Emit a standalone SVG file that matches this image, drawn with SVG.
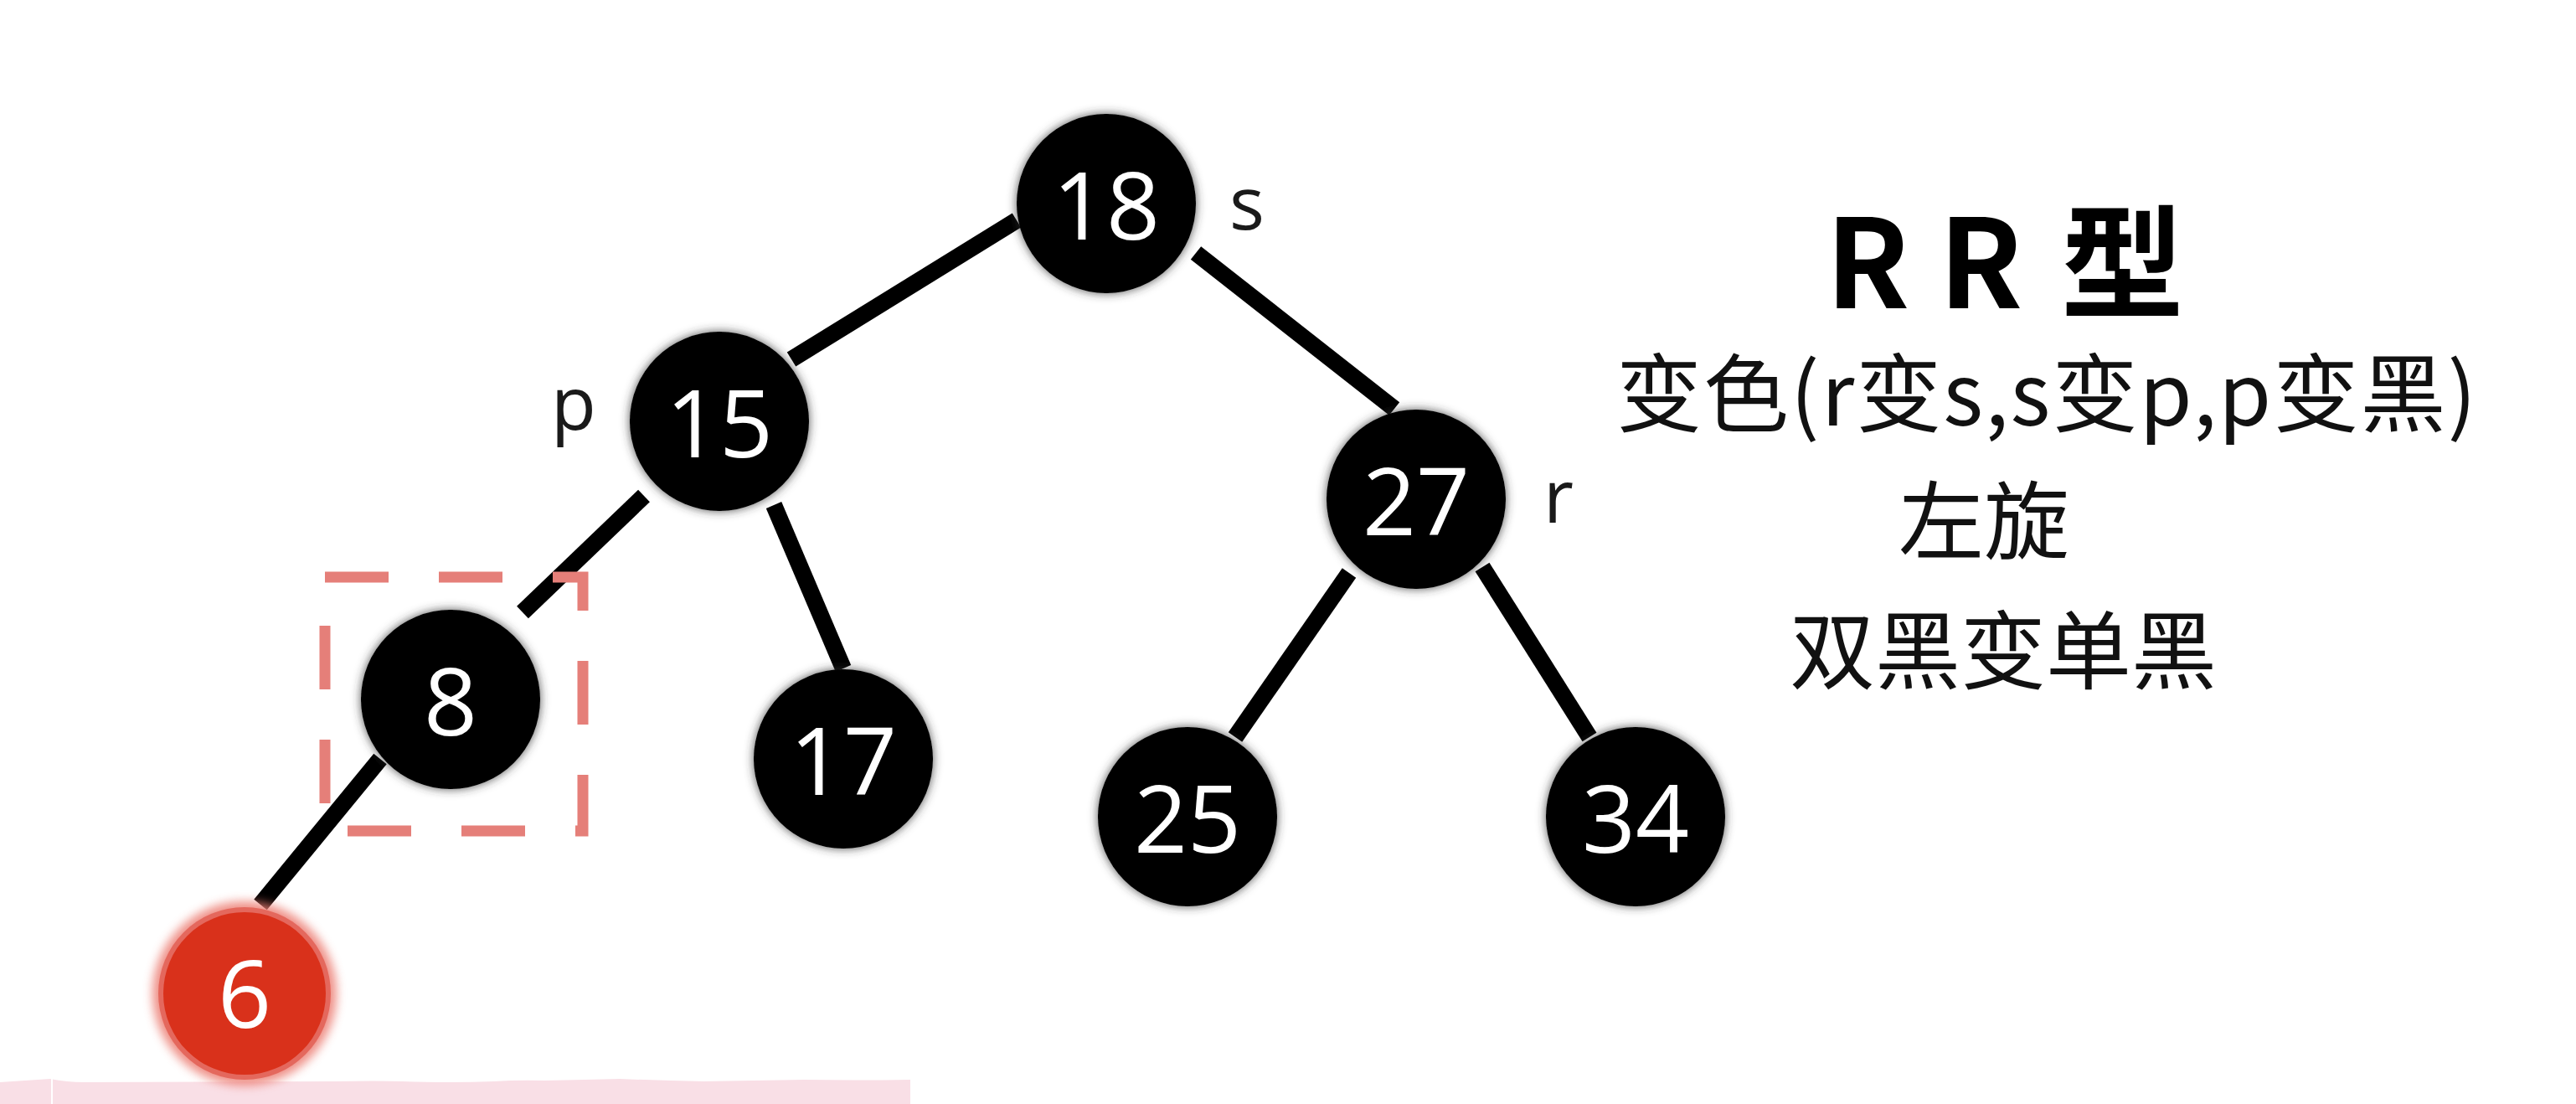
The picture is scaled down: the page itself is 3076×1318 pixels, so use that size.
<svg xmlns="http://www.w3.org/2000/svg" width="3076" height="1318" viewBox="0 0 3076 1318">
  <defs>
    <style>
      .node { fill: #000000; filter: url(#glow); }
      .num { font-family: "Open Sans", "Noto Sans", "Liberation Sans", sans-serif; font-size: 112px; fill: #ffffff; text-anchor: middle; }
      .lbl { font-family: "Open Sans", "Noto Sans", "Liberation Sans", sans-serif; font-size: 88px; fill: #1a1a1a; }
      .edge { stroke: #000000; stroke-width: 20; stroke-linecap: butt; fill: none; }
      .cjk { font-family: "Noto Sans CJK SC", "Noto Sans", sans-serif; font-size: 102px; fill: #111111; }
    </style>
    <filter id="glow" x="-20%" y="-20%" width="140%" height="140%">
      <feGaussianBlur in="SourceAlpha" stdDeviation="6" result="b"/>
      <feFlood flood-color="#333333" flood-opacity="0.85"/>
      <feComposite in2="b" operator="in" result="s"/>
      <feMerge>
        <feMergeNode in="s"/>
        <feMergeNode in="SourceGraphic"/>
      </feMerge>
    </filter>
    <filter id="redglow" x="-30%" y="-30%" width="160%" height="160%">
      <feGaussianBlur stdDeviation="6"/>
    </filter>
  </defs>

  <rect x="0" y="0" width="3076" height="1318" fill="#ffffff"/>

  <!-- bottom pink band -->
  <g id="band">
    <path d="M0,1292 Q30,1290 60,1288 Q80,1292 100,1292 L400,1291 Q450,1290 480,1291 Q540,1293 590,1291 Q620,1289 650,1290 Q700,1289 740,1288 Q790,1290 840,1291 Q900,1290 960,1289 Q1020,1290 1087,1289 L1087,1318 L0,1318 Z" fill="#f9dfe6"/>
    <line x1="62" y1="1288" x2="62" y2="1318" stroke="#ffffff" stroke-width="2"/>
  </g>

  <!-- connectors -->
  <g id="connectors">
    <line class="edge" x1="1214" y1="263" x2="945" y2="429"/>
    <line class="edge" x1="1428" y1="302" x2="1665" y2="488"/>
    <line class="edge" x1="769" y1="592" x2="624" y2="731"/>
    <line class="edge" x1="924" y1="603" x2="1007" y2="798"/>
    <line class="edge" x1="454" y1="906" x2="311" y2="1080"/>
    <line class="edge" x1="1611" y1="684" x2="1475" y2="880"/>
    <line class="edge" x1="1770" y1="677" x2="1898" y2="880"/>
  </g>

  <!-- highlight box around node 8 -->
  <g id="highlight">
    <rect x="388" y="689" width="308" height="303" fill="none" stroke="#e57f79" stroke-width="13" stroke-dasharray="76 60"/>
  </g>

  <g id="node18">
    <circle class="node" cx="1321" cy="243" r="107"/>
    <text class="num" x="1321" y="286">18</text>
  </g>
  <g id="node15">
    <circle class="node" cx="859" cy="503" r="107"/>
    <text class="num" x="859" y="546">15</text>
  </g>
  <g id="node27">
    <circle class="node" cx="1691" cy="596" r="107"/>
    <text class="num" x="1691" y="639">27</text>
  </g>
  <g id="node8">
    <circle class="node" cx="538" cy="835" r="107"/>
    <text class="num" x="538" y="878">8</text>
  </g>
  <g id="node17">
    <circle class="node" cx="1007" cy="906" r="107"/>
    <text class="num" x="1007" y="949">17</text>
  </g>
  <g id="node25">
    <circle class="node" cx="1418" cy="975" r="107"/>
    <text class="num" x="1418" y="1018">25</text>
  </g>
  <g id="node34">
    <circle class="node" cx="1953" cy="975" r="107"/>
    <text class="num" x="1953" y="1018">34</text>
  </g>
  <g id="node6">
    <circle cx="292" cy="1186" r="110" fill="#ec7d72" opacity="0.85" filter="url(#redglow)"/>
    <circle cx="292" cy="1186" r="103" fill="#e4685d"/>
    <circle cx="292" cy="1186" r="97" fill="#d9311b"/>
    <text class="num" x="292" y="1227">6</text>
  </g>

  <!-- node role labels -->
  <g id="labels">
    <text class="lbl" x="1468" y="274">s</text>
    <text class="lbl" x="658" y="513">p</text>
    <text class="lbl" x="1843" y="624">r</text>
  </g>

  <!-- explanation text -->
  <g id="notes">
    <text font-family="'Noto Sans CJK SC', 'Noto Sans', sans-serif" font-weight="bold" font-size="147" fill="#000000" x="2180 2275 2315 2420 2461" y="368">R R 型</text>
    <text class="cjk" x="1930" y="508" textLength="1027" lengthAdjust="spacing">变色(r变s,s变p,p变黑)</text>
    <text class="cjk" x="2267" y="660">左旋</text>
    <text class="cjk" x="2137" y="815">双黑变单黑</text>
  </g>
</svg>
